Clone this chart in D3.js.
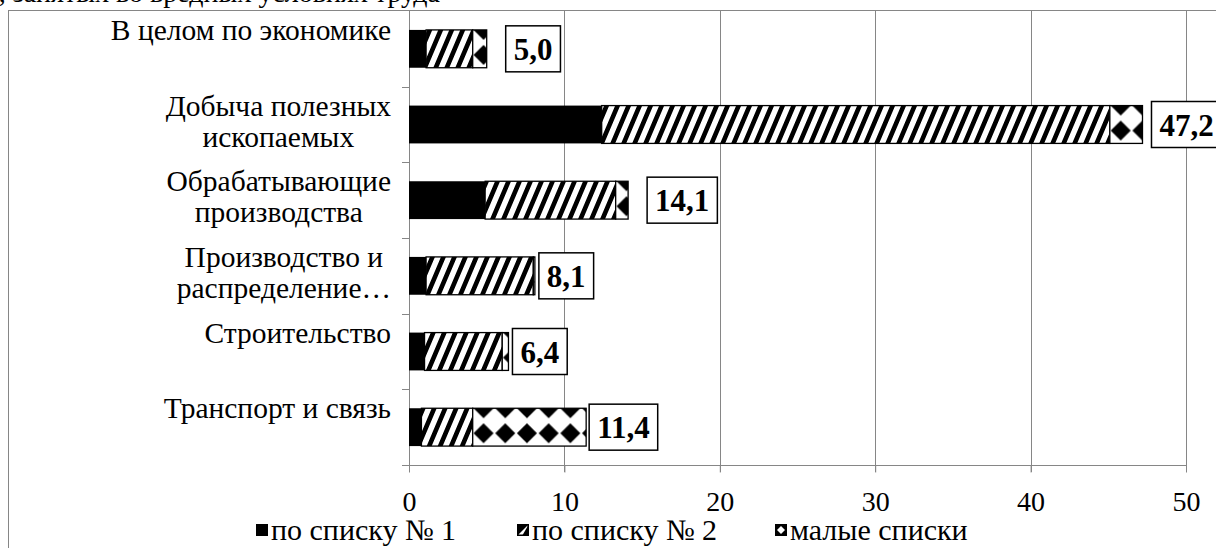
<!DOCTYPE html>
<html><head><meta charset="utf-8">
<script src="https://cdn.jsdelivr.net/npm/d3@7/dist/d3.min.js"></script>
<style>
body{margin:0;background:#fff}
svg{display:block}
svg text{font-family:"Liberation Serif","Times New Roman",serif;fill:#000}
</style>
</head><body>
<svg id="c" width="1216" height="548"></svg>
<script>
// ---- data ----
const categories = [
  "В целом по экономике",
  "Добыча полезных\nископаемых",
  "Обрабатывающие\nпроизводства",
  "Производство и\nраспределение…",
  "Строительство",
  "Транспорт и связь"
];
const list1 = [1.1, 12.4, 4.9, 1.1, 1.0, 0.8];
const list2 = [3.0, 32.7, 8.4, 6.9, 5.0, 3.3];
const smallLists = [0.9, 2.1, 0.8, 0.1, 0.4, 7.3];
const seriesNames = ["по списку № 1", "по списку № 2", "малые списки"];
const xTicks = [0, 10, 20, 30, 40, 50];
const titleText = "работников, занятых во вредных условиях труда";

// ---- layout ----
const svg = d3.select("#c");
const serif = "Liberation Serif";
const pLeft = 409, pRight = 1186, pTop = 11, pBottom = 465;
const labelGap = [19, 9, 19, 4, 4, 3];
const legendX = [256, 517, 775];
const gridColor = "#868686";

const x = d3.scaleLinear().domain([0, 50]).range([pLeft, pRight]);
const y = d3.scaleBand().domain(categories).range([pTop, pBottom]).paddingInner(0.5).paddingOuter(0.25);

const defs = svg.append("defs");
const hatch = defs.append("pattern").attr("id", "hatch")
  .attr("patternUnits", "userSpaceOnUse").attr("width", 11).attr("height", 11)
  .attr("patternTransform", "skewX(-23)");
hatch.append("rect").attr("width", 11).attr("height", 11).attr("fill", "#fff");
hatch.append("rect").attr("width", 5).attr("height", 11).attr("fill", "#000");

// title fragment (cropped at the top, as in the source)
svg.append("text").attr("x", 440).attr("y", 2).attr("text-anchor", "end")
  .style("font-family", serif).style("font-size", "28px").text(titleText);

// outer border
svg.append("rect").attr("x", 8.5).attr("y", 10.5).attr("width", 1300).attr("height", 700)
  .attr("fill", "none").attr("stroke", gridColor).attr("stroke-width", 1);

// gridlines
svg.append("g").selectAll("line").data(xTicks.filter(d => d > 0)).join("line")
  .attr("x1", d => Math.round(x(d)) + 0.5).attr("x2", d => Math.round(x(d)) + 0.5)
  .attr("y1", pTop).attr("y2", pBottom + 7)
  .attr("stroke", gridColor).attr("stroke-width", 1);

// bottom axis
const xAxis = svg.append("g").attr("transform", `translate(0,${pBottom + 0.5})`)
  .call(d3.axisBottom(x).tickValues(xTicks).tickSize(7).tickSizeOuter(0).tickFormat(d3.format("d")));
xAxis.attr("font-family", serif).attr("font-size", 28);
xAxis.select(".domain").attr("stroke", gridColor).attr("d", `M${pLeft - 7},0H${pRight + 0.5}`);
xAxis.selectAll(".tick line").attr("stroke", gridColor);
xAxis.selectAll(".tick text").attr("y", 45).attr("dy", null)
  .style("font-family", serif).style("font-size", "28px");

// left axis with boundary ticks
svg.append("line").attr("x1", pLeft + 0.5).attr("x2", pLeft + 0.5).attr("y1", pTop).attr("y2", pBottom + 7)
  .attr("stroke", gridColor);
const bounds = d3.range(categories.length + 1).map(i => pTop + i * y.step());
svg.append("g").selectAll("line").data(bounds.slice(1)).join("line")
  .attr("x1", pLeft - 7).attr("x2", pLeft).attr("y1", d => Math.round(d) + 0.5).attr("y2", d => Math.round(d) + 0.5)
  .attr("stroke", gridColor);

// category labels
const catG = svg.append("g");
categories.forEach((c, i) => {
  const lines = c.split("\n");
  const cy = y(c) + y.bandwidth() / 2;
  const t = catG.append("text").style("font-family", serif).style("font-size", "29.5px");
  const spans = lines.map((ln, k) => t.append("tspan").attr("y", cy - 9 + k * 31).text(ln));
  const widths = spans.map(s => s.node().getComputedTextLength());
  const mw = d3.max(widths);
  const cx = 391 - mw / 2;
  spans.forEach(s => s.attr("x", cx).attr("text-anchor", "middle"));
});

// bars
const rows = categories.map((c, i) => {
  const a = list1[i], b = list2[i], s = smallLists[i];
  return {c, i, segs: [[0, a], [a, a + b], [a + b, a + b + s]], total: a + b + s};
});

rows.forEach(r => {
  const by = y(r.c), bh = y.bandwidth();
  const s3 = r.segs[2];
  const p = defs.append("pattern").attr("id", "dia" + r.i)
    .attr("patternUnits", "userSpaceOnUse")
    .attr("x", x(s3[0])).attr("y", by).attr("width", 21.7).attr("height", 25);
  p.append("rect").attr("width", 21.7).attr("height", 25).attr("fill", "#fff");
  [0, 25].forEach(yy => p.append("path")
    .attr("d", `M10.85,${yy - 10}L20.85,${yy}L10.85,${yy + 10}L0.85,${yy}Z`).attr("fill", "#000"));

  const g = svg.append("g");
  g.append("rect").attr("x", x(r.segs[0][0])).attr("y", by)
    .attr("width", x(r.segs[0][1]) - x(r.segs[0][0])).attr("height", bh).attr("fill", "#000");
  g.append("rect").attr("x", x(r.segs[1][0])).attr("y", by)
    .attr("width", x(r.segs[1][1]) - x(r.segs[1][0])).attr("height", bh)
    .attr("fill", "url(#hatch)").attr("stroke", "#000").attr("stroke-width", 1.3);
  g.append("rect").attr("x", x(s3[0])).attr("y", by)
    .attr("width", x(s3[1]) - x(s3[0])).attr("height", bh)
    .attr("fill", `url(#dia${r.i})`).attr("stroke", "#000").attr("stroke-width", 1.3);

  // value label box
  const txt = d3.format(".1f")(r.total).replace(".", ",");
  const lx = x(r.total) + labelGap[r.i];
  const cy = by + bh / 2;
  const box = g.append("rect").attr("y", cy - 23).attr("height", 46)
    .attr("fill", "#fff").attr("stroke", "#000").attr("stroke-width", 1.5);
  const t = g.append("text").attr("y", cy + 11).attr("text-anchor", "middle")
    .style("font-family", serif).style("font-size", "31px").style("font-weight", "bold").text(txt);
  const w = t.node().getComputedTextLength() + 16;
  box.attr("x", lx).attr("width", w);
  t.attr("x", lx + w / 2);
});

// legend
const leg = svg.append("g");
seriesNames.forEach((n, i) => {
  const lxp = legendX[i];
  const g = leg.append("g");
  if (i === 0) {
    g.append("rect").attr("x", lxp).attr("y", 524).attr("width", 12).attr("height", 12).attr("fill", "#000");
  } else if (i === 1) {
    g.append("rect").attr("x", lxp + 0.75).attr("y", 524.75).attr("width", 10.5).attr("height", 10.5).attr("fill", "#fff").attr("stroke", "#000").attr("stroke-width", 1.5);
    g.append("path").attr("d", `M${lxp},536L${lxp},524L${lxp + 12},524Z`).attr("fill", "#000");
    g.append("path").attr("d", `M${lxp + 12},524L${lxp + 12},536L${lxp + 5},536Z`).attr("fill", "#000");
  } else {
    g.append("rect").attr("x", lxp).attr("y", 524).attr("width", 12).attr("height", 12).attr("fill", "#000");
    g.append("path").attr("d", `M${lxp + 6},526L${lxp + 10},530L${lxp + 6},534L${lxp + 2},530Z`).attr("fill", "#fff");
  }
  g.append("text").attr("x", lxp + 15).attr("y", 540)
    .style("font-family", serif).style("font-size", "30px").text(n);
});
</script>
</body></html>
